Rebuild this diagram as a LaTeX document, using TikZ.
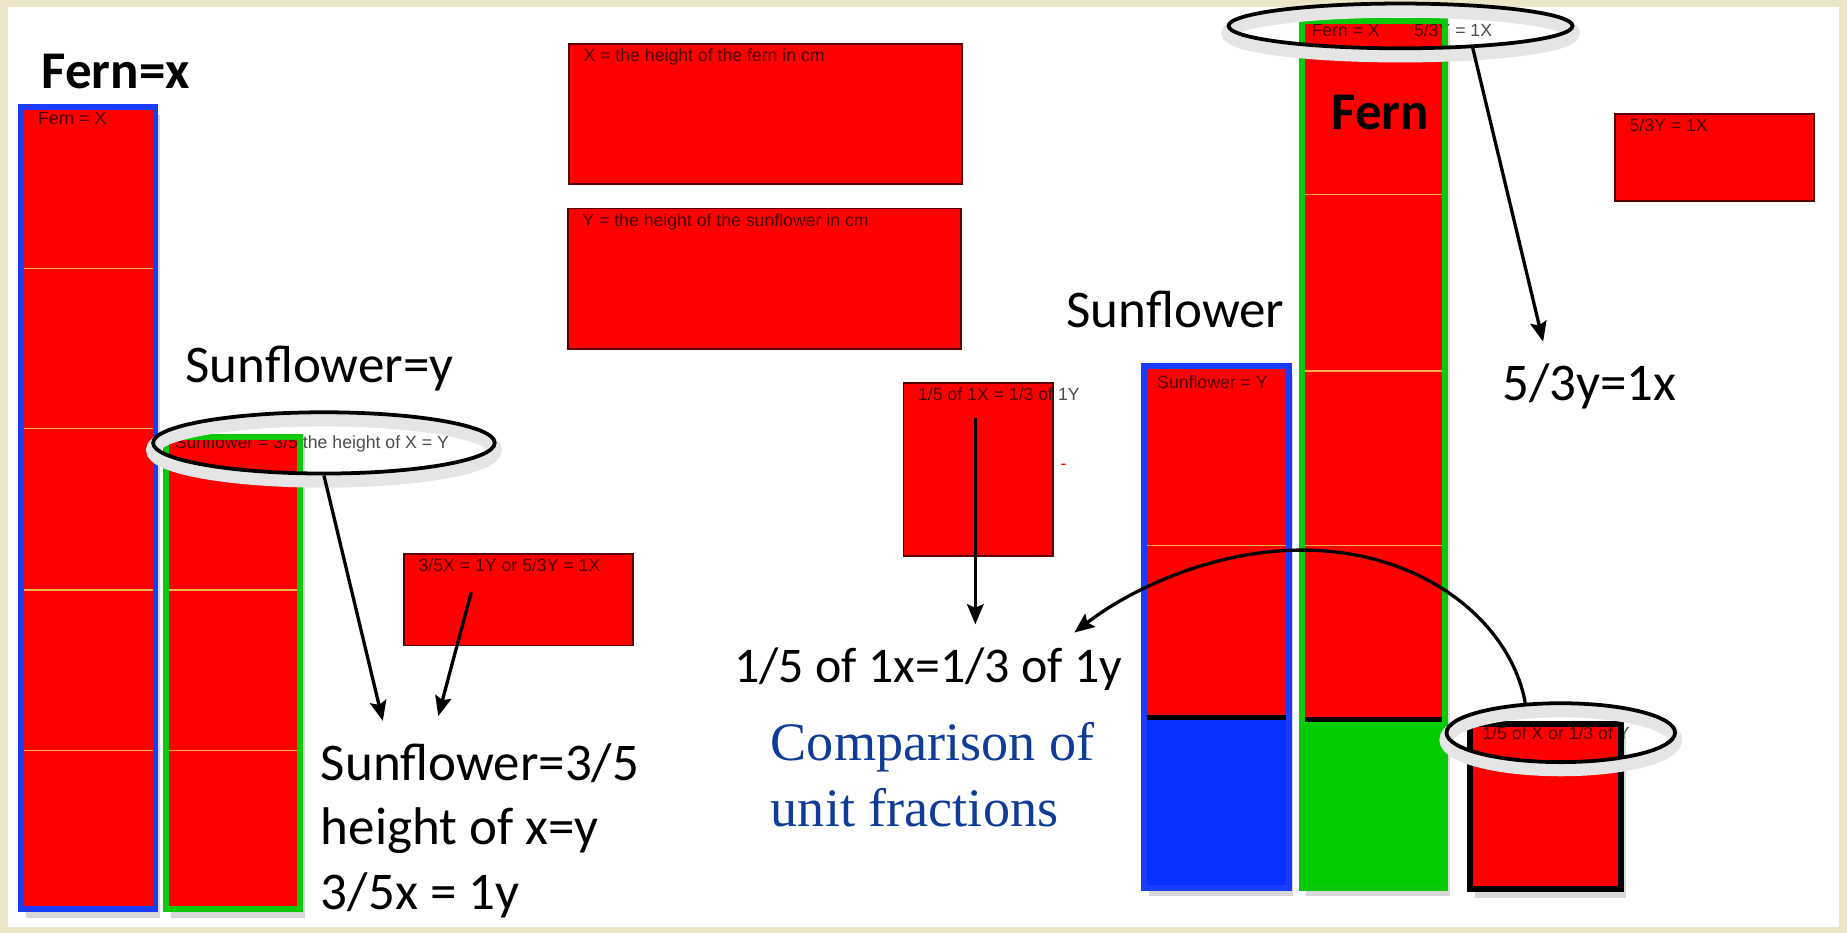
\documentclass[tikz,border=0pt]{standalone}
\usepackage{fontspec}
\setmainfont{Carlito}
\newfontfamily\tagfamily{Liberation Sans}
\newfontfamily\titlefamily{Liberation Serif}
\usetikzlibrary{arrows.meta, shapes.geometric, shadows}

\definecolor{paper}{RGB}{236,229,200}
\definecolor{edgeblue}{RGB}{25,60,255}
\definecolor{fillblue}{RGB}{5,50,255}
\definecolor{edgegreen}{RGB}{10,200,10}
\definecolor{fillgreen}{RGB}{0,205,0}
\definecolor{partline}{RGB}{240,180,60}
\definecolor{boxedge}{RGB}{90,0,0}
\definecolor{titleblue}{RGB}{15,60,150}

\newcommand{\bigtxtfont}{\fontsize{22.5}{27.3}\selectfont}
\newcommand{\tagtxtfont}{\tagfamily\fontsize{7.5}{9}\selectfont}

\tikzset{
    redbox/.style={fill=red, draw=boxedge, line width=0.8pt},
    barfill/.style={fill=red, drop shadow={opacity=0.3, shadow xshift=2pt, shadow yshift=-3.5pt}},
    divider/.style={draw=partline, line width=0.6pt},
    cutline/.style={draw=black, line width=2pt},
    blueedge/.style={draw=edgeblue, line width=2.5pt},
    greenedge/.style={draw=edgegreen, line width=2.5pt},
    tagtext/.style={font=\tagtxtfont, text=black, text opacity=0.7, inner sep=0pt, anchor=base west},
    bigtext/.style={font=\bigtxtfont, inner sep=0pt, anchor=base west},
    bigbold/.style={font=\bigtxtfont\bfseries, inner sep=0pt, anchor=base west},
    titletext/.style={font=\titlefamily\fontsize{23}{28}\selectfont, text=titleblue, align=left, inner sep=0pt, anchor=north west},
    ovalring/.style={draw, ellipse, line width=1.6pt, inner sep=0pt,
        preaction={draw=black!10, line width=6pt, transform canvas={yshift=-3pt}}}
}

\begin{document}
\begin{tikzpicture}[x=0.5pt, y=-0.5pt]
    % page
    \fill[paper] (0,0) rectangle (1568,792);
    \fill[white] (7,6) rectangle (1561,787);
    \useasboundingbox (0,0) rectangle (1568,792);

    % left: fern bar and sunflower bar
    \fill[barfill] (18,91) rectangle (132,772);
    \foreach \y in {228,364,501,637}
        \draw[divider] (20,\y) -- (130,\y);
    \node[tagtext] (fernxtag) at (32,106) {Fern = X};
    \draw[blueedge] (18,91) rectangle (132,772);

    \fill[barfill] (141,371) rectangle (255,772);
    \foreach \y in {501,637}
        \draw[divider] (143,\y) -- (253,\y);
    \node[tagtext] (sftag) at (148,381) {Sunflower = 3/5 the height of X = Y};
    \draw[greenedge] (141,371) rectangle (255,772);

    % boxes in the middle
    \draw[redbox] (483,37) rectangle (817,156);
    \node[tagtext] (xdef) at (495,52) {X = the height of the fern in cm};
    \draw[redbox] (482,177) rectangle (816,296);
    \node[tagtext] (ydef) at (494,192) {Y = the height of the sunflower in cm};
    \draw[redbox] (343,470) rectangle (537,548);
    \node[tagtext] (ratiotag) at (355,485) {3/5X = 1Y or 5/3Y = 1X};
    \draw[redbox] (767,325) rectangle (894,472);
    \node[tagtext] (unittag) at (779,340) {1/5 of 1X = 1/3 of 1Y};
    \node[font=\tagtxtfont, text=red, inner sep=0pt] (dash) at (903,396) {-};
    \draw[redbox] (1371,97) rectangle (1540,171);
    \node[tagtext] (fivetag) at (1383,112) {5/3Y = 1X};

    % right: sunflower bar, fern bar, unit piece
    \fill[barfill] (971,311) rectangle (1094,754);
    \fill[fillblue] (971,609) rectangle (1094,754);
    \draw[divider] (973,463) -- (1092,463);
    \draw[cutline] (973,609) -- (1092,609);
    \node[tagtext] (sfytag) at (982,330) {Sunflower = Y};
    \draw[blueedge] (971,311) rectangle (1094,754);

    \fill[barfill] (1105,18) rectangle (1227,754);
    \fill[fillgreen] (1105,611) rectangle (1227,754);
    \foreach \y in {165,315,463}
        \draw[divider] (1107,\y) -- (1225,\y);
    \draw[cutline] (1107,611) -- (1225,611);
    \node[tagtext] (fernxtag2) at (1113,31) {Fern = X};
    \node[tagtext] (fivetag2) at (1200,31) {5/3Y = 1X};
    \draw[greenedge] (1105,18) rectangle (1227,754);
    \node[bigbold] (fernword) at (1130,110) {Fern};

    \filldraw[fill=red, draw=black, line width=2.5pt, drop shadow={opacity=0.3, shadow xshift=2pt, shadow yshift=-3.5pt}]
        (1248,615) rectangle (1376,755);
    \node[tagtext] (piecetag) at (1258,628) {1/5 of X or 1/3 of Y};

    % rings
    \node[ovalring, minimum width=145pt, minimum height=26pt] (sfoval) at (275,376) {};
    \node[ovalring, minimum width=146pt, minimum height=19pt] (fernoval) at (1189,22) {};
    \node[ovalring, minimum width=97pt, minimum height=25pt] (unitoval) at (1325,622) {};

    % words
    \node[bigbold] (fernx) at (35,75) {Fern=x};
    \node[bigtext] (sfy) at (157,325) {Sunflower=y};
    \node[bigtext, align=left, anchor=north west] (sfeq) at (272,631) {Sunflower=3/5\\height of x=y\\3/5x = 1y};
    \node[bigtext, font=\fontsize{21.2}{25}\selectfont] (unitline) at (623,579) {1/5 of 1x=1/3 of 1y};
    \node[titletext] (title) at (654,613) {Comparison of\\unit fractions};
    \node[bigtext] (sfword) at (905,278) {Sunflower};
    \node[bigtext] (fiveline) at (1275,340) {5/3y=1x};

    % arrows
    \coordinate (tipa) at (325,612);
    \coordinate (ratiostart) at (400,503);
    \coordinate (tipb) at (372,608);
    \coordinate (unitstart) at (828,355);
    \coordinate (tipc) at (828,530);
    \coordinate (tipd) at (1310,290);
    \coordinate (peak) at (1105,467);
    \coordinate (tipe) at (912,537);
    \begin{scope}[every path/.style={->, >={Stealth[length=8.5pt, width=7pt, inset=1.5pt]}, line width=1.4pt}]
        \draw (sfoval.south) -- (tipa);
        \draw (ratiostart) -- (tipb);
        \draw (unitstart) -- (tipc);
        \draw (fernoval.-17) -- (tipd);
        \draw (unitoval.140) .. controls +(-12,-67) and +(105,0) .. (peak)
            .. controls +(-75,0) and +(48,-37) .. (tipe);
    \end{scope}
\end{tikzpicture}
\end{document}
